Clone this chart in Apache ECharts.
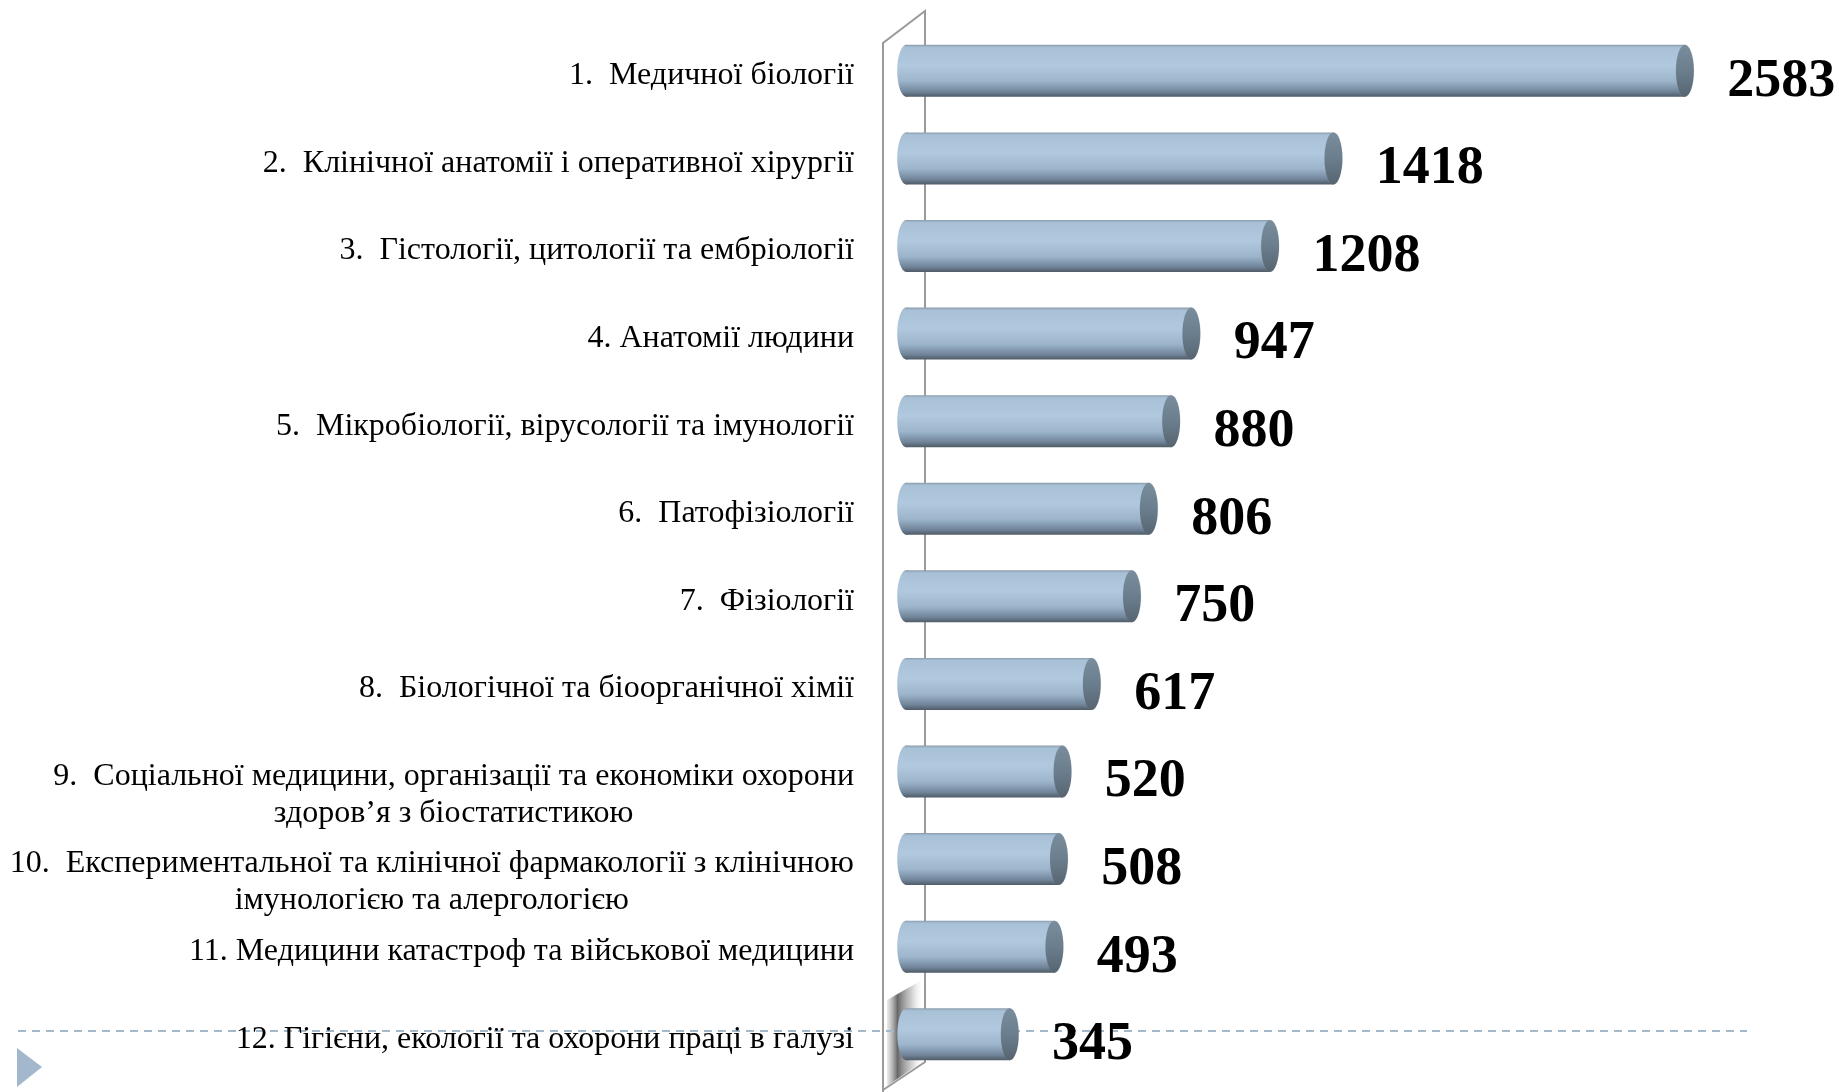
<!DOCTYPE html>
<html>
<head>
<meta charset="utf-8">
<script src="https://cdn.jsdelivr.net/npm/echarts@6/dist/echarts.min.js"></script>
<style>
  html, body { margin: 0; background: #fff; }
  #chart { width: 1839px; height: 1092px; }
</style>
</head>
<body>
<div id="chart"></div>
<script>
// --- data ---
const categories = [
  '1.  Медичної біології',
  '2.  Клінічної анатомії і оперативної хірургії',
  '3.  Гістології, цитології та ембріології',
  '4. Анатомії людини',
  '5.  Мікробіології, вірусології та імунології',
  '6.  Патофізіології',
  '7.  Фізіології',
  '8.  Біологічної та біоорганічної хімії',
  '9.  Соціальної медицини, організації та економіки охорони\nздоров’я з біостатистикою',
  '10.  Експериментальної та клінічної фармакології з клінічною\nімунологією та алергологією',
  '11. Медицини катастроф та військової медицини',
  '12. Гігієни, екології та охорони праці в галузі'
];
const values = [2583, 1418, 1208, 947, 880, 806, 750, 617, 520, 508, 493, 345];

const FONT = '"Liberation Serif", "Times New Roman", serif';
const BAR_H = 52;
const CAP_W = 18;

// cylinder body gradient (top -> bottom)
const bodyGrad = () => new echarts.graphic.LinearGradient(0, 0, 0, 1, [
  { offset: 0, color: '#8a9bab' },
  { offset: 0.05, color: '#a8c1d7' },
  { offset: 0.4, color: '#b0c9de' },
  { offset: 0.7, color: '#9cb5cb' },
  { offset: 0.9, color: '#71859a' },
  { offset: 1, color: '#4f5b67' }
]);

const chart = echarts.init(document.getElementById('chart'));

chart.setOption({
  backgroundColor: '#fff',
  animation: false,
  grid: { left: 906, right: 28, top: 27, bottom: 14, containLabel: false },
  xAxis: { type: 'value', min: 0, max: 3000, show: false },
  yAxis: {
    type: 'category',
    inverse: true,
    data: categories,
    axisLine: { show: false },
    axisTick: { show: false },
    splitLine: { show: false },
    axisLabel: {
      margin: 52,
      color: '#000',
      fontFamily: FONT,
      fontSize: 32,
      lineHeight: 37,
      padding: [10, 0, 0, 0],
      formatter: (v) => {
        if (v.indexOf('\n') < 0) return v;
        const [l1, l2] = v.split('\n');
        // blank first line keeps line 1 level with the bar, line 2 centred below
        return '{a| }\n{a|' + l1 + '}\n{c|' + l2 + '}';
      },
      rich: {
        a: { fontFamily: FONT, fontSize: 32, lineHeight: 37, color: '#000' },
        c: { fontFamily: FONT, fontSize: 32, lineHeight: 37, color: '#000', align: 'center' }
      }
    }
  },
  series: [
    {
      // back end of the cylinder
      type: 'pictorialBar',
      symbol: 'circle',
      symbolSize: [CAP_W, BAR_H],
      symbolPosition: 'start',
      symbolOffset: [-CAP_W / 2, 0],
      barWidth: BAR_H,
      barGap: '-100%',
      z: 1,
      data: values,
      itemStyle: { color: bodyGrad(), borderColor: '#7f8f9e', borderWidth: 1 }
    },
    {
      type: 'bar',
      barWidth: BAR_H,
      z: 2,
      data: values,
      itemStyle: { color: bodyGrad() },
      label: {
        show: true,
        position: 'right',
        distance: 42,
        offset: [0, 11],
        color: '#000',
        fontFamily: FONT,
        fontSize: 54,
        fontWeight: 'bold'
      }
    },
    {
      // front cap
      type: 'pictorialBar',
      symbol: 'circle',
      symbolSize: [CAP_W, BAR_H],
      symbolPosition: 'end',
      symbolOffset: [CAP_W / 2, 0],
      barWidth: BAR_H,
      barGap: '-100%',
      z: 3,
      data: values,
      itemStyle: {
        color: new echarts.graphic.LinearGradient(0, 0, 0, 1, [
          { offset: 0, color: '#7a8d9d' },
          { offset: 0.5, color: '#6b7e8e' },
          { offset: 1, color: '#56646f' }
        ]),
        borderColor: '#8797a5',
        borderWidth: 1
      }
    }
  ],
  graphic: [
    {
      // wall shadow behind the last bar
      type: 'polygon',
      z: 0,
      shape: { points: [[887, 1000], [922, 980], [922, 1062], [887, 1086]] },
      style: {
        fill: new echarts.graphic.LinearGradient(0, 0, 1, 0, [
          { offset: 0, color: 'rgba(120,120,120,0.15)' },
          { offset: 0.3, color: 'rgba(40,40,40,0.7)' },
          { offset: 0.7, color: 'rgba(120,120,120,0.35)' },
          { offset: 1, color: 'rgba(200,200,200,0)' }
        ])
      }
    },
    {
      // side wall outline
      type: 'polyline',
      z: 0,
      shape: { points: [[883, 1092], [883, 43], [925, 11], [925, 1062], [883, 1090]] },
      style: { stroke: '#9a9a9a', lineWidth: 2, fill: null }
    },
    {
      type: 'line',
      z: 0,
      shape: { x1: 18, y1: 1031, x2: 1747, y2: 1031 },
      style: { stroke: '#a3b7cb', lineWidth: 2, lineDash: [8, 6] }
    },
    {
      type: 'polygon',
      z: 0,
      shape: { points: [[17, 1048], [42, 1067], [17, 1087]] },
      style: { fill: '#a3b8cc' }
    }
  ]
});
</script>
</body>
</html>
